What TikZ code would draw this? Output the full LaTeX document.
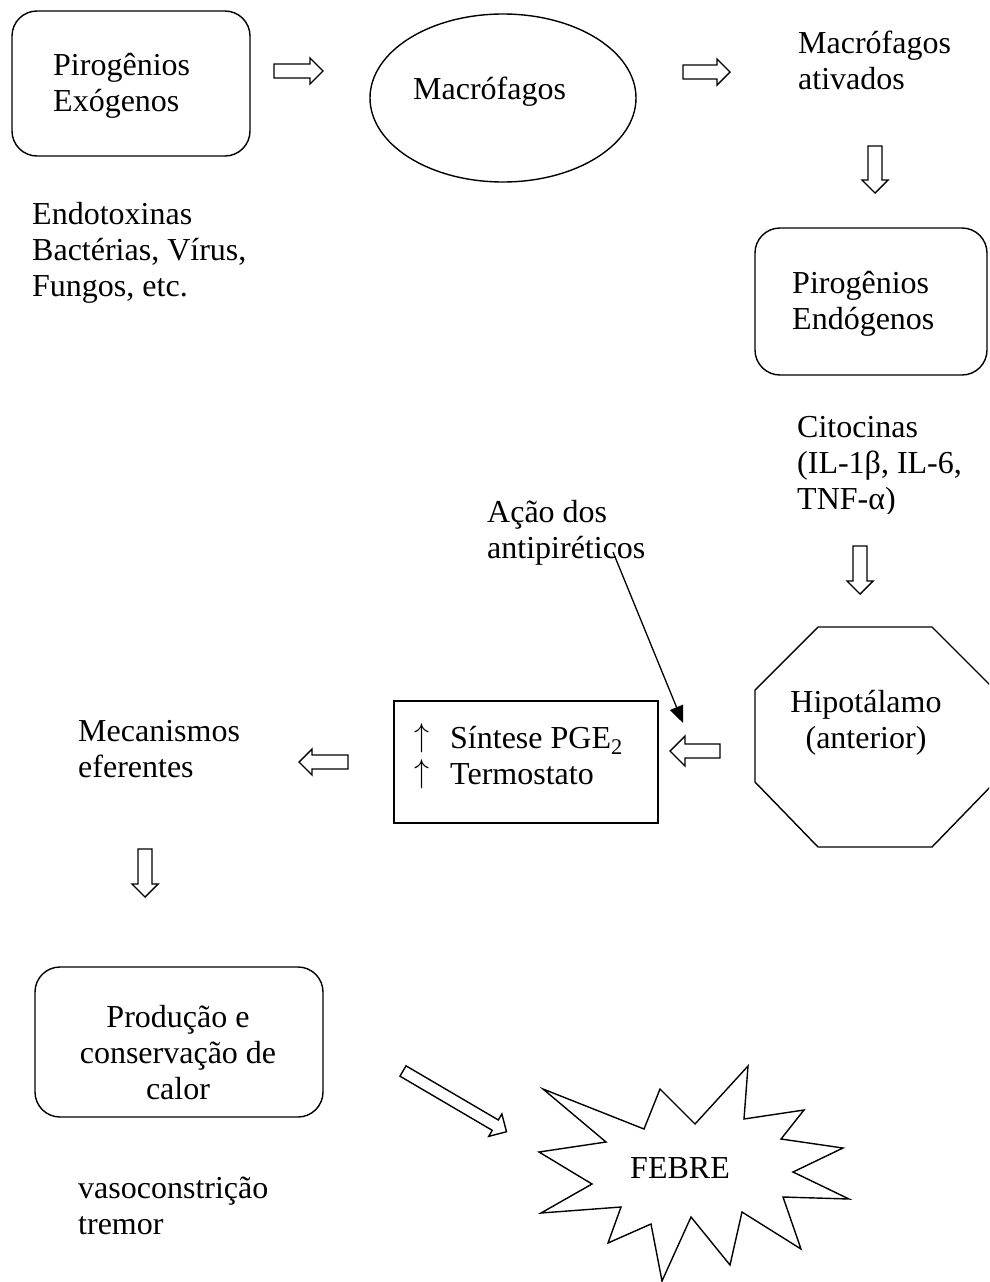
\documentclass[tikz,border=0pt]{standalone}
\usepackage{fontspec}
\usepackage{graphicx}
\setmainfont{Liberation Serif}
\usetikzlibrary{arrows.meta}
\tikzset{
  txt/.style={font=\fontsize{32}{36}\selectfont, inner sep=0pt, align=left, anchor=base west},
  ctxt/.style={font=\fontsize{32}{36}\selectfont, inner sep=0pt, align=center, anchor=base},
  shapeline/.style={draw=black, line width=1.4pt, line join=miter},
}
% name, x, y, angle, length, head half width, shaft half width
\newcommand\blkarrow[7]{%
  \begin{scope}[shift={(#2,#3)}, rotate=#4]
    \draw[shapeline] (0,#7) -- ({#5-#6},#7) -- ({#5-#6},#6) -- (#5,0) coordinate (#1)
      -- ({#5-#6},-#6) -- ({#5-#6},-#7) -- (0,-#7) -- cycle;
  \end{scope}}
\newcommand\upar{\makebox[36pt][l]{\raisebox{2pt}{\resizebox{15pt}{23pt}{$\uparrow$}}}}
\begin{document}
\begin{tikzpicture}[x=1pt,y=-1pt]
\useasboundingbox (0,0) rectangle (989,1282);
\clip (0,0) rectangle (989,1282);
\fill[white] (0,0) rectangle (989,1282);

% Pirogenios Exogenos (base anchor = last line's baseline)
\draw[shapeline, rounded corners=25pt] (12,11) rectangle (250,156);
\node[txt] (pexo) at (53,111) {Pirogênios\\Exógenos};
\node[txt] (endo) at (32,296) {Endotoxinas\\Bactérias, Vírus,\\Fungos, etc.};

\blkarrow{a1}{274}{71}{0}{49}{13}{7}

% Macrofagos ellipse
\draw[shapeline] (503,98) ellipse [x radius=133pt, y radius=84pt];
\node[txt] (macro) at (413,99) {Macrófagos};

\blkarrow{a2}{683}{72}{0}{47}{13}{7}

\node[txt] (macat) at (798,89) {Macrófagos\\ativados};

\blkarrow{a3}{875}{146}{-90}{47}{13}{7}

% Pirogenios Endogenos
\draw[shapeline, rounded corners=25pt] (755,228) rectangle (987,375);
\node[txt] (pendo) at (792,329) {Pirogênios\\Endógenos};

% Citocinas (clipped at bottom)
\begin{scope}
  \clip (780,390) rectangle (989,513);
  \node[txt] (cito) at (797,509) {Citocinas\\(IL-1β, IL-6,\\TNF-α)};
\end{scope}

\blkarrow{a4}{860}{546}{-90}{48}{13}{7}

% Hipotalamo octagon
\draw[shapeline] (818,627) -- (932,627) -- (995,690) -- (995,782) -- (932,847)
  -- (818,847) -- (755,782) -- (755,690) -- cycle;
\node[ctxt] (hipo) at (866,748) {Hipotálamo\\(anterior)};

\blkarrow{a5}{720}{751}{180}{50}{15}{7}

% Sintese box
\draw[shapeline] (394,701) rectangle (658,823);
\node[txt] (sint) at (414,784) {\upar Síntese PGE\textsubscript{2}\\\upar Termostato};

% Acao dos antipireticos
\node[txt] (acao) at (487,558) {Ação dos\\antipiréticos};
\coordinate (acaostart) at (613,552);
\coordinate (acaotip) at (683,723);
\draw[line width=1.3pt, -{Triangle[length=17pt,width=14pt]}] (acaostart) -- (acaotip);

\blkarrow{a6}{348}{762}{180}{49}{13}{7}

\node[txt] (meca) at (78,777) {Mecanismos\\eferentes};

\blkarrow{a7}{145}{849}{-90}{48}{13}{7}

% Producao e conservacao de calor
\draw[shapeline, rounded corners=25pt] (35,967) rectangle (323,1117);
\node[ctxt] (prod) at (178,1099) {Produção e\\conservação de\\calor};

\node[txt] (vaso) at (78,1234) {vasoconstrição\\tremor};

\blkarrow{a8}{403}{1071}{-30.4}{120}{13}{6}

% FEBRE star
\draw[shapeline] (543,1089) -- (644,1129) -- (660,1089) -- (695,1124) -- (748,1066)
  -- (744,1119) -- (804,1110) -- (781,1139) -- (843,1148) -- (793,1172)
  -- (849,1199) -- (783,1197) -- (801,1249) -- (742,1212) -- (730,1265)
  -- (691,1217) -- (662,1281) -- (651,1224) -- (608,1243) -- (621,1207)
  -- (541,1213) -- (592,1184) -- (539,1152) -- (606,1142) -- cycle;
\node[ctxt] (febre) at (680,1178) {FEBRE};
\end{tikzpicture}
\end{document}
